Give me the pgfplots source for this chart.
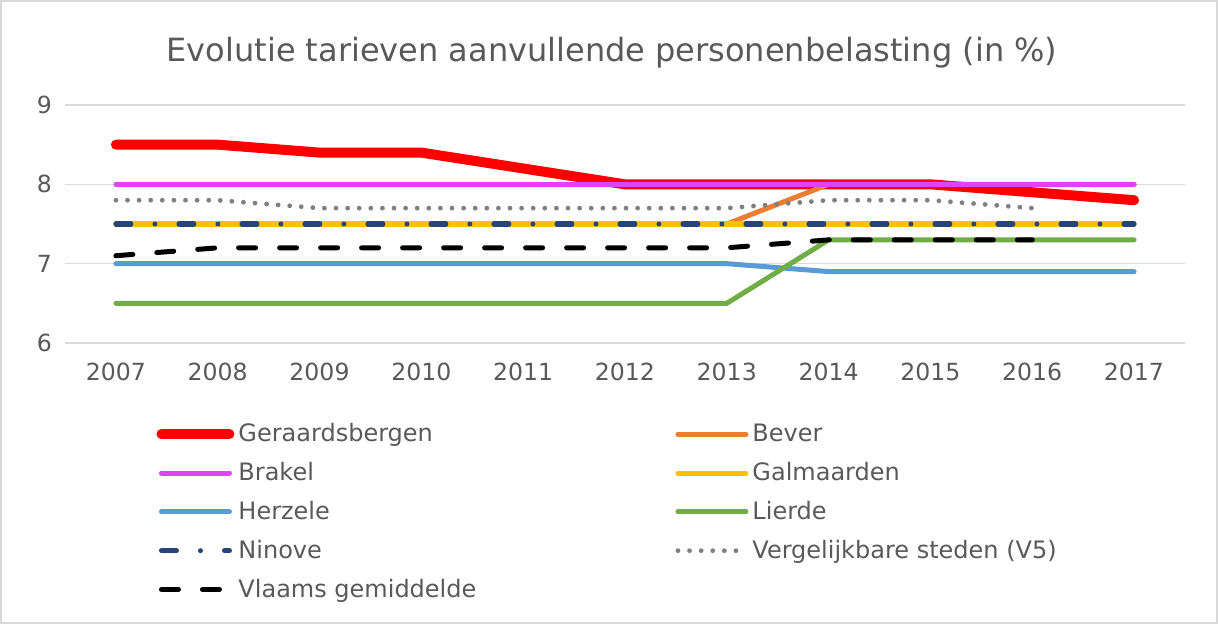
\documentclass[border=0pt]{standalone}
\usepackage{pgfplots}
\pgfplotsset{compat=1.18}
\usepackage{fontspec}
\setmainfont{DejaVu Sans}
\definecolor{txt}{HTML}{595959}
\definecolor{gridc}{HTML}{D9D9D9}
\definecolor{cRed}{HTML}{FF0000}
\definecolor{cOrange}{HTML}{ED7D31}
\definecolor{cMag}{HTML}{E043F3}
\definecolor{cYel}{HTML}{FFC000}
\definecolor{cBlue}{HTML}{5B9BD5}
\definecolor{cGreen}{HTML}{70AD47}
\definecolor{cNavy}{HTML}{264478}
\definecolor{cGray}{HTML}{808080}
\begin{document}
\begin{tikzpicture}
\draw[gridc, line width=0.8pt] (-32.1pt,-140.1pt) rectangle (576.1pt,171.1pt);
\begin{axis}[
  at={(0,0)}, anchor=south west,
  scale only axis, width=560pt, height=119pt,
  xmin=2006.5, xmax=2017.5, ymin=6, ymax=9,
  xtick={2007,...,2017}, ytick={6,7,8,9},
  /pgf/number format/assume math mode=true,
  xticklabel={\pgfmathprintnumber[1000 sep={}]{\tick}},
  axis line style={draw=none},
  tick style={draw=none},
  ymajorgrids, major grid style={gridc, line width=0.8pt},
  tick label style={font=\fontsize{11.8}{14}\selectfont, text=txt},
  xticklabel style={yshift=-6.5pt},
  yticklabel style={xshift=-3pt},
  title={Evolutie tarieven aanvullende personenbelasting (in \%)},
  title style={font=\fontsize{16}{19}\selectfont, text=txt, at={(0.5,1)}, anchor=center, yshift=20pt, xshift=-6.5pt},
  legend columns=2,
  legend cell align=left,
  legend style={draw=none, fill=none, at={(0.0813,-0.32)}, anchor=north west,
    font=\fontsize{12}{14}\selectfont, text=txt, inner sep=0pt, row sep=4.8pt,
    /tikz/every odd column/.append style={column sep=0pt},
    /tikz/every even column/.append style={column sep=0pt}},
  legend image code/.code={\draw[#1] (0pt,0pt) -- (34pt,0pt);},
  every axis plot/.append style={line cap=round, line join=round},
]
\addplot[cRed, line width=5pt] coordinates {(2007,8.5)(2008,8.5)(2009,8.4)(2010,8.4)(2011,8.2)(2012,8.0)(2013,8.0)(2014,8.0)(2015,8.0)(2016,7.9)(2017,7.8)};
\addlegendentry{\makebox[216.5pt][l]{Geraardsbergen}}
\addplot[cOrange, line width=2.5pt] coordinates {(2007,7.5)(2008,7.5)(2009,7.5)(2010,7.5)(2011,7.5)(2012,7.5)(2013,7.5)(2014,8.0)(2015,8.0)(2016,8.0)(2017,8.0)};
\addlegendentry{Bever}
\addplot[cMag, line width=2.5pt] coordinates {(2007,8)(2008,8)(2009,8)(2010,8)(2011,8)(2012,8)(2013,8)(2014,8)(2015,8)(2016,8)(2017,8)};
\addlegendentry{Brakel}
\addplot[cYel, line width=2.5pt] coordinates {(2007,7.5)(2008,7.5)(2009,7.5)(2010,7.5)(2011,7.5)(2012,7.5)(2013,7.5)(2014,7.5)(2015,7.5)(2016,7.5)(2017,7.5)};
\addlegendentry{Galmaarden}
\addplot[cBlue, line width=2.5pt] coordinates {(2007,7.0)(2008,7.0)(2009,7.0)(2010,7.0)(2011,7.0)(2012,7.0)(2013,7.0)(2014,6.9)(2015,6.9)(2016,6.9)(2017,6.9)};
\addlegendentry{Herzele}
\addplot[cGreen, line width=2.5pt] coordinates {(2007,6.5)(2008,6.5)(2009,6.5)(2010,6.5)(2011,6.5)(2012,6.5)(2013,6.5)(2014,7.3)(2015,7.3)(2016,7.3)(2017,7.3)};
\addlegendentry{Lierde}
\addplot[cNavy, line width=2.5pt, dash pattern=on 7.5pt off 12pt on 0pt off 12pt] coordinates {(2007,7.5)(2008,7.5)(2009,7.5)(2010,7.5)(2011,7.5)(2012,7.5)(2013,7.5)(2014,7.5)(2015,7.5)(2016,7.5)(2017,7.5)};
\addlegendentry{Ninove}
\addplot[cGray, line width=2.4pt, dash pattern=on 0pt off 5.8pt] coordinates {(2007,7.8)(2008,7.8)(2009,7.7)(2010,7.7)(2011,7.7)(2012,7.7)(2013,7.7)(2014,7.8)(2015,7.8)(2016,7.7)};
\addlegendentry{Vergelijkbare steden (V5)}
\addplot[black, line width=2.5pt, dash pattern=on 8.5pt off 12pt] coordinates {(2007,7.1)(2008,7.2)(2009,7.2)(2010,7.2)(2011,7.2)(2012,7.2)(2013,7.2)(2014,7.3)(2015,7.3)(2016,7.3)};
\addlegendentry{Vlaams gemiddelde}
\end{axis}
\end{tikzpicture}
\end{document}
